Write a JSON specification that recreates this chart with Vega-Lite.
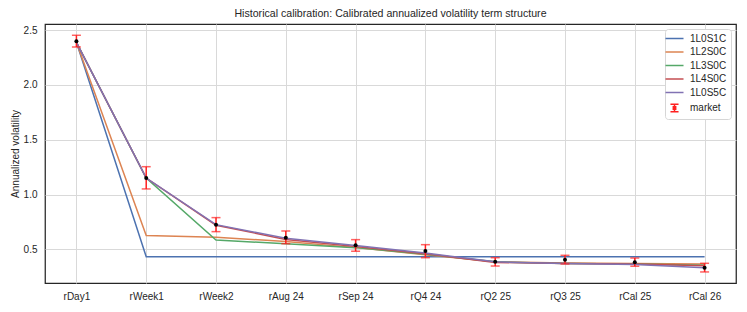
{
  "$schema": "https://vega.github.io/schema/vega-lite/v6.json",
  "width": 691,
  "height": 259,
  "autosize": "none",
  "padding": {"left": 45, "top": 24, "right": 11, "bottom": 29},
  "title": {"text": "Historical calibration: Calibrated annualized volatility term structure", "fontSize": 10.6, "fontWeight": "normal", "font": "Liberation Sans", "color": "#262626", "offset": 4, "anchor": "middle"},
  "config": {
    "font": "Liberation Sans",
    "view": {"stroke": "#262626", "strokeWidth": 1.25},
    "axis": {"domain": false, "ticks": false, "gridColor": "#d9d9d9", "gridWidth": 1, "labelFontSize": 10, "labelColor": "#262626", "titleFontSize": 10, "titleFontWeight": "normal", "titleColor": "#262626", "labelFont": "Liberation Sans", "titleFont": "Liberation Sans"}
  },
  "datasets": {
    "curves": [
      {"series": "1L0S1C", "tenor": "rDay1", "vol": 2.39},
      {"series": "1L0S1C", "tenor": "rWeek1", "vol": 0.432},
      {"series": "1L0S1C", "tenor": "rWeek2", "vol": 0.432},
      {"series": "1L0S1C", "tenor": "rAug 24", "vol": 0.432},
      {"series": "1L0S1C", "tenor": "rSep 24", "vol": 0.432},
      {"series": "1L0S1C", "tenor": "rQ4 24", "vol": 0.432},
      {"series": "1L0S1C", "tenor": "rQ2 25", "vol": 0.432},
      {"series": "1L0S1C", "tenor": "rQ3 25", "vol": 0.432},
      {"series": "1L0S1C", "tenor": "rCal 25", "vol": 0.432},
      {"series": "1L0S1C", "tenor": "rCal 26", "vol": 0.432},
      {"series": "1L2S0C", "tenor": "rDay1", "vol": 2.39},
      {"series": "1L2S0C", "tenor": "rWeek1", "vol": 0.625},
      {"series": "1L2S0C", "tenor": "rWeek2", "vol": 0.61},
      {"series": "1L2S0C", "tenor": "rAug 24", "vol": 0.57},
      {"series": "1L2S0C", "tenor": "rSep 24", "vol": 0.515},
      {"series": "1L2S0C", "tenor": "rQ4 24", "vol": 0.45},
      {"series": "1L2S0C", "tenor": "rQ2 25", "vol": 0.385},
      {"series": "1L2S0C", "tenor": "rQ3 25", "vol": 0.375},
      {"series": "1L2S0C", "tenor": "rCal 25", "vol": 0.37},
      {"series": "1L2S0C", "tenor": "rCal 26", "vol": 0.365},
      {"series": "1L3S0C", "tenor": "rDay1", "vol": 2.39},
      {"series": "1L3S0C", "tenor": "rWeek1", "vol": 1.15},
      {"series": "1L3S0C", "tenor": "rWeek2", "vol": 0.585},
      {"series": "1L3S0C", "tenor": "rAug 24", "vol": 0.55},
      {"series": "1L3S0C", "tenor": "rSep 24", "vol": 0.515},
      {"series": "1L3S0C", "tenor": "rQ4 24", "vol": 0.455},
      {"series": "1L3S0C", "tenor": "rQ2 25", "vol": 0.385},
      {"series": "1L3S0C", "tenor": "rQ3 25", "vol": 0.37},
      {"series": "1L3S0C", "tenor": "rCal 25", "vol": 0.365},
      {"series": "1L3S0C", "tenor": "rCal 26", "vol": 0.355},
      {"series": "1L4S0C", "tenor": "rDay1", "vol": 2.39},
      {"series": "1L4S0C", "tenor": "rWeek1", "vol": 1.15},
      {"series": "1L4S0C", "tenor": "rWeek2", "vol": 0.72},
      {"series": "1L4S0C", "tenor": "rAug 24", "vol": 0.59},
      {"series": "1L4S0C", "tenor": "rSep 24", "vol": 0.525},
      {"series": "1L4S0C", "tenor": "rQ4 24", "vol": 0.46},
      {"series": "1L4S0C", "tenor": "rQ2 25", "vol": 0.38},
      {"series": "1L4S0C", "tenor": "rQ3 25", "vol": 0.37},
      {"series": "1L4S0C", "tenor": "rCal 25", "vol": 0.365},
      {"series": "1L4S0C", "tenor": "rCal 26", "vol": 0.35},
      {"series": "1L0S5C", "tenor": "rDay1", "vol": 2.39},
      {"series": "1L0S5C", "tenor": "rWeek1", "vol": 1.15},
      {"series": "1L0S5C", "tenor": "rWeek2", "vol": 0.725},
      {"series": "1L0S5C", "tenor": "rAug 24", "vol": 0.6},
      {"series": "1L0S5C", "tenor": "rSep 24", "vol": 0.535},
      {"series": "1L0S5C", "tenor": "rQ4 24", "vol": 0.465},
      {"series": "1L0S5C", "tenor": "rQ2 25", "vol": 0.385},
      {"series": "1L0S5C", "tenor": "rQ3 25", "vol": 0.37},
      {"series": "1L0S5C", "tenor": "rCal 25", "vol": 0.36},
      {"series": "1L0S5C", "tenor": "rCal 26", "vol": 0.332}
    ],
    "market": [
      {"tenor": "rDay1", "vol": 2.40, "lo": 2.347, "hi": 2.454},
      {"tenor": "rWeek1", "vol": 1.151, "lo": 1.051, "hi": 1.254},
      {"tenor": "rWeek2", "vol": 0.725, "lo": 0.661, "hi": 0.789},
      {"tenor": "rAug 24", "vol": 0.606, "lo": 0.551, "hi": 0.667},
      {"tenor": "rSep 24", "vol": 0.537, "lo": 0.482, "hi": 0.588},
      {"tenor": "rQ4 24", "vol": 0.484, "lo": 0.423, "hi": 0.542},
      {"tenor": "rQ2 25", "vol": 0.387, "lo": 0.347, "hi": 0.423},
      {"tenor": "rQ3 25", "vol": 0.405, "lo": 0.366, "hi": 0.445},
      {"tenor": "rCal 25", "vol": 0.381, "lo": 0.345, "hi": 0.42},
      {"tenor": "rCal 26", "vol": 0.332, "lo": 0.293, "hi": 0.372}
    ]
  },
  "encoding": {
    "x": {"field": "tenor", "type": "ordinal", "sort": ["rDay1", "rWeek1", "rWeek2", "rAug 24", "rSep 24", "rQ4 24", "rQ2 25", "rQ3 25", "rCal 25", "rCal 26"],
      "scale": {"type": "point", "padding": 0.45},
      "axis": {"title": null, "labelAngle": 0, "labelPadding": 8, "grid": true}}
  },
  "layer": [
    {
      "data": {"name": "curves"},
      "mark": {"type": "line", "strokeWidth": 1.5},
      "encoding": {
        "y": {"field": "vol", "type": "quantitative", "scale": {"domain": [0.192, 2.557], "nice": false, "zero": false},
          "axis": {"title": "Annualized volatility", "values": [0.5, 1, 1.5, 2, 2.5], "format": ".1f", "labelPadding": 8, "titlePadding": 3, "grid": true}},
        "color": {"field": "series", "type": "nominal",
          "scale": {"domain": ["1L0S1C", "1L2S0C", "1L3S0C", "1L4S0C", "1L0S5C", "market"], "range": ["#4C72B0", "#DD8452", "#55A868", "#C44E52", "#8172B3", "#ff2020"]},
          "legend": {"title": null, "orient": "top-right", "offset": 5, "padding": 4, "strokeColor": "#d6d6d6", "cornerRadius": 3, "fillColor": "#ffffff",
            "labelFontSize": 10, "labelColor": "#262626", "labelFont": "Liberation Sans", "symbolSize": 90, "symbolStrokeWidth": 1.5, "labelOffset": 10, "rowPadding": 2.5,
            "encode": {"symbols": {"update": {
              "shape": {"signal": "datum.value === 'market' ? 'M-0.85,-0.8H0.85M0,-0.8V0.8M-0.85,0.8H0.85M-0.25,-0.25H0.25V0.25H-0.25Z' : 'M-1.9,0H1.9'"},
              "fill": {"signal": "datum.value === 'market' ? 'black' : 'transparent'"},
              "strokeWidth": {"value": 1.5}
            }}}}}
      }
    },
    {
      "data": {"name": "market"},
      "mark": {"type": "rule", "color": "#ff2020", "strokeWidth": 1.5},
      "encoding": {"y": {"field": "lo", "type": "quantitative"}, "y2": {"field": "hi"}}
    },
    {
      "data": {"name": "market"},
      "mark": {"type": "tick", "color": "#ff2020", "thickness": 1.5, "size": 9, "orient": "horizontal"},
      "encoding": {"y": {"field": "lo", "type": "quantitative"}}
    },
    {
      "data": {"name": "market"},
      "mark": {"type": "tick", "color": "#ff2020", "thickness": 1.5, "size": 9, "orient": "horizontal"},
      "encoding": {"y": {"field": "hi", "type": "quantitative"}}
    },
    {
      "data": {"name": "market"},
      "mark": {"type": "point", "filled": true, "color": "black", "size": 16, "opacity": 1},
      "encoding": {"y": {"field": "vol", "type": "quantitative"}}
    }
  ]
}
